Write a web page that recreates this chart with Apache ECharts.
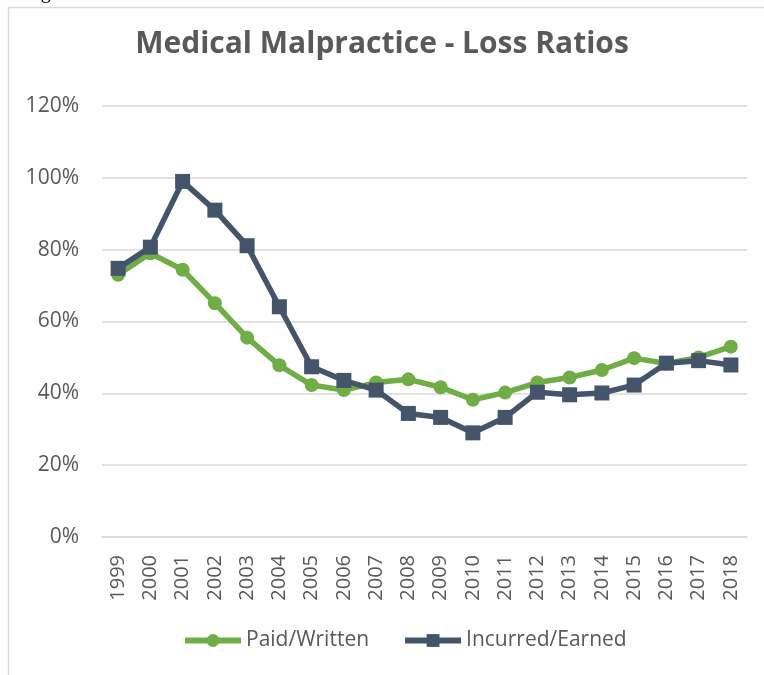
<!DOCTYPE html>
<html>
<head>
    <meta http-equiv="Content-Type" content="text/html; charset=utf-8" />
    <style type="text/css">
        body, html {width: 100%;height: 100%;margin:0;background:#fff;}
        #chart{width:764px;height:675px;}
    </style>
    <script src="https://cdn.jsdelivr.net/npm/echarts@6/dist/echarts.min.js"></script>
    <title>Medical Malpractice - Loss Ratios</title>
</head>
<body>
<div id="chart"></div>
<script type="text/javascript">
    var years = ['1999', '2000', '2001', '2002', '2003', '2004', '2005', '2006', '2007', '2008',
                 '2009', '2010', '2011', '2012', '2013', '2014', '2015', '2016', '2017', '2018'];
    // loss ratios in %
    var paidWritten = [73.0, 79.0, 74.4, 65.1, 55.5, 47.8, 42.3, 40.9, 43.0, 43.9,
                       41.7, 38.2, 40.2, 43.0, 44.4, 46.5, 49.8, 48.3, 50.0, 53.0];
    var incurredEarned = [74.8, 80.7, 99.0, 91.0, 81.1, 64.1, 47.4, 43.6, 40.9, 34.4,
                          33.3, 29.0, 33.3, 40.3, 39.6, 40.1, 42.3, 48.4, 49.1, 47.9];
    var yTicks = [0, 20, 40, 60, 80, 100, 120];

    var txtColor = '#595959';
    var myChart = echarts.init(document.getElementById('chart'));
    var option = {
        backgroundColor: '#fff',
        animation: false,
        title: {
            text: 'Medical Malpractice - Loss Ratios',
            left: 'center',
            top: 24,
            textStyle: {
                color: txtColor,
                fontFamily: 'Open Sans',
                fontWeight: 'bold',
                fontSize: 30
            }
        },
        legend: {
            top: 625,
            left: 177,
            itemWidth: 56,
            itemHeight: 16,
            itemGap: 33,
            lineStyle: {width: 6},
            textStyle: {color: txtColor, fontFamily: 'Open Sans', fontSize: 21},
            data: ['Paid/Written', 'Incurred/Earned']
        },
        grid: {
            left: 102,
            right: 17,
            top: 106,
            bottom: 138
        },
        xAxis: {
            type: 'category',
            data: years,
            boundaryGap: true,
            axisLine: {show: true, lineStyle: {color: '#d9d9d9', width: 1.5}},
            axisTick: {show: false},
            axisLabel: {
                rotate: 90,
                color: txtColor,
                fontFamily: 'Open Sans',
                fontSize: 20,
                margin: 18,
                interval: 0
            }
        },
        yAxis: {
            type: 'value',
            min: yTicks[0],
            max: yTicks[yTicks.length - 1],
            interval: 20,
            axisLine: {show: false},
            axisTick: {show: false},
            splitLine: {lineStyle: {color: '#d9d9d9', width: 1.5}},
            axisLabel: {
                color: txtColor,
                fontFamily: 'Open Sans',
                fontSize: 21,
                margin: 23,
                formatter: '{value}%'
            }
        },
        graphic: [
            {
                type: 'polyline',
                shape: {points: [[8.5, 680], [8.5, 7.5], [770, 7.5]]},
                style: {stroke: '#d9d9d9', lineWidth: 1.5, fill: null}
            },
            {
                type: 'text',
                left: 24,
                top: -17,
                style: {text: 'Figure 10', font: '20px "Liberation Serif"', fill: '#000'}
            }
        ],
        series: [
            {
                name: 'Paid/Written',
                type: 'line',
                data: paidWritten,
                symbol: 'circle',
                symbolSize: 14,
                color: '#70ad47',
                lineStyle: {width: 5.5, color: '#70ad47'},
                itemStyle: {color: '#70ad47'}
            },
            {
                name: 'Incurred/Earned',
                type: 'line',
                data: incurredEarned,
                symbol: 'rect',
                symbolSize: 15,
                color: '#44546a',
                lineStyle: {width: 5.5, color: '#44546a'},
                itemStyle: {color: '#44546a'}
            }
        ]
    };
    myChart.setOption(option);
</script>
</body>
</html>
